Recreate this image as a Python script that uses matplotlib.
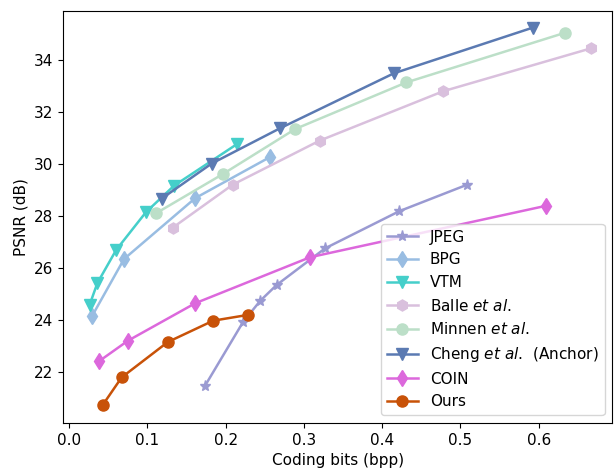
import matplotlib
matplotlib.use("Agg")
import matplotlib.pyplot as plt

# Dados (bpp, PSNR)
jpeg_bpp = [0.173, 0.222, 0.244, 0.265, 0.327, 0.422, 0.508]
jpeg_psnr = [21.43, 23.90, 24.72, 25.33, 26.74, 28.17, 29.18]

bpg_bpp = [0.029, 0.070, 0.161, 0.256]
bpg_psnr = [24.13, 26.33, 28.67, 30.24]

vtm_bpp = [0.026, 0.036, 0.060, 0.098, 0.134, 0.215]
vtm_psnr = [24.57, 25.41, 26.68, 28.13, 29.15, 30.76]

balle_bpp = [0.132, 0.209, 0.320, 0.478, 0.667]
balle_psnr = [27.53, 29.19, 30.88, 32.78, 34.43]

minnen_bpp = [0.111, 0.196, 0.289, 0.431, 0.634]
minnen_psnr = [28.09, 29.59, 31.33, 33.12, 35.03]

cheng_bpp = [0.118, 0.182, 0.269, 0.415, 0.593]
cheng_psnr = [28.65, 30.0, 31.35, 33.47, 35.23]

coin_bpp = [0.038, 0.075, 0.161, 0.308, 0.610]
coin_psnr = [22.40, 23.19, 24.63, 26.40, 28.38]

ours_bpp = [0.043, 0.067, 0.126, 0.184, 0.228]
ours_psnr = [20.73, 21.78, 23.14, 23.96, 24.18]

plt.rcParams["font.size"] = 11

fig = plt.figure(figsize=(6.14, 4.72), dpi=100)
ax = fig.add_subplot(111)

lw, ms = 1.8, 8
ax.plot(jpeg_bpp, jpeg_psnr, marker="*", color="#9a9ad2", lw=lw, ms=ms, label="JPEG")
ax.plot(bpg_bpp, bpg_psnr, marker="d", color="#99bde2", lw=lw, ms=ms, label="BPG")
ax.plot(vtm_bpp, vtm_psnr, marker="v", color="#45cfca", lw=lw, ms=ms, label="VTM")
ax.plot(balle_bpp, balle_psnr, marker="h", color="#d9c0dd", lw=lw, ms=ms, label=r"Balle $\it{et\ al}$.")
ax.plot(minnen_bpp, minnen_psnr, marker="o", color="#bcdfc8", lw=lw, ms=ms, label=r"Minnen $\it{et\ al}$.")
ax.plot(cheng_bpp, cheng_psnr, marker="v", color="#5b7ab2", lw=lw, ms=ms, label=r"Cheng $\it{et\ al}$.  (Anchor)")
ax.plot(coin_bpp, coin_psnr, marker="d", color="#dc68dc", lw=lw, ms=ms, label="COIN")
ax.plot(ours_bpp, ours_psnr, marker="o", color="#c85208", lw=lw, ms=ms, label="Ours")

ax.set_xlim(-0.0077, 0.694)
ax.set_ylim(20.03, 35.87)
ax.set_xlabel("Coding bits (bpp)")
ax.set_ylabel("PSNR (dB)")
ax.legend(loc="lower right")

plt.subplots_adjust(left=0.103, right=0.997, top=0.977, bottom=0.104)
plt.savefig("out.png", dpi=100)
